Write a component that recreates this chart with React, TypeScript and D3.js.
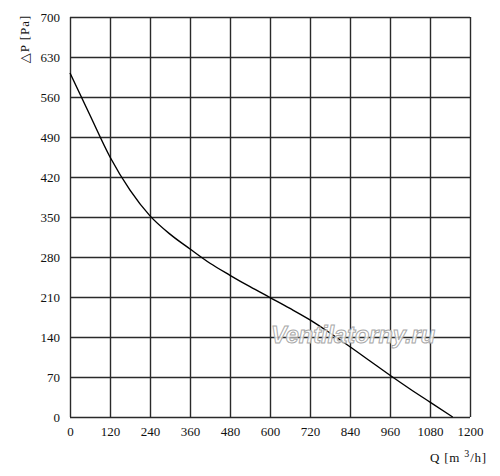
import { useEffect, useRef } from "react";
import * as d3 from "d3";

// flow Q [m3/h] and pressure dP [Pa]
const flow = [0, 60, 120, 180, 240, 300, 360, 420, 480, 540, 600, 660, 720, 780, 840, 900, 960, 1020, 1080, 1148];
const pressure = [602, 528, 455, 397, 352, 320, 294, 269, 248, 228, 209, 190, 170, 147, 123, 98, 73, 49, 26, 0];

const xTicks = [0, 120, 240, 360, 480, 600, 720, 840, 960, 1080, 1200];
const yTicks = [0, 70, 140, 210, 280, 350, 420, 490, 560, 630, 700];

const FONT = "'Liberation Serif', 'DejaVu Serif', serif";

export default function App() {
  const svgRef = useRef<SVGSVGElement | null>(null);

  useEffect(() => {
    document.body.style.margin = "0";
    if (!svgRef.current) {
      return;
    }
    const svg = d3.select(svgRef.current);
    svg.selectAll("*").remove();

    const width = 500;
    const height = 476;
    const margin = { top: 17, left: 70 };
    const innerWidth = 400;
    const innerHeight = 400;

    const x = d3.scaleLinear().domain([0, 1200]).range([0, innerWidth]);
    const y = d3.scaleLinear().domain([0, 700]).range([innerHeight, 0]);

    svg.attr("width", width).attr("height", height).attr("viewBox", `0 0 ${width} ${height}`);

    const root = svg.append("g").attr("transform", `translate(${margin.left},${margin.top})`);

    root
      .append("g")
      .call(d3.axisLeft(y).tickValues(yTicks).tickFormat(d3.format("d")).tickSize(-innerWidth).tickPadding(10))
      .call((axis) => axis.select(".domain").remove())
      .call((axis) => axis.selectAll("line").attr("stroke", "#2a2a2a").attr("stroke-width", 1.4))
      .call((axis) =>
        axis
          .selectAll("text")
          .attr("fill", "#111")
          .style("font-family", FONT)
          .style("font-size", "13px"),
      );

    root
      .append("g")
      .attr("transform", `translate(0,${innerHeight})`)
      .call(d3.axisBottom(x).tickValues(xTicks).tickFormat(d3.format("d")).tickSize(-innerHeight).tickPadding(10))
      .call((axis) => axis.select(".domain").remove())
      .call((axis) => axis.selectAll("line").attr("stroke", "#2a2a2a").attr("stroke-width", 1.4))
      .call((axis) =>
        axis
          .selectAll("text")
          .attr("fill", "#111")
          .style("font-family", FONT)
          .style("font-size", "13px"),
      );

    // watermark
    svg
      .append("text")
      .attr("x", 271)
      .attr("y", 343)
      .attr("textLength", 164)
      .attr("lengthAdjust", "spacingAndGlyphs")
      .attr("fill", "#fff")
      .attr("fill-opacity", 0.85)
      .attr("stroke", "#a8a8a8")
      .attr("stroke-width", 1)
      .style("font-family", "'Liberation Sans', Arial, sans-serif")
      .style("font-style", "italic")
      .style("font-weight", "bold")
      .style("font-size", "24px")
      .text("Ventilatorny.ru");

    const rows = flow.map((q, i) => ({ q, p: pressure[i] }));
    const line = d3
      .line<{ q: number; p: number }>()
      .x((d) => x(d.q))
      .y((d) => y(d.p))
      .curve(d3.curveMonotoneX);

    root
      .append("path")
      .datum(rows)
      .attr("fill", "none")
      .attr("stroke", "#000")
      .attr("stroke-width", 1.4)
      .attr("d", line);

    svg
      .append("text")
      .attr("transform", "translate(29,39) rotate(-90)")
      .attr("text-anchor", "middle")
      .attr("fill", "#111")
      .style("font-family", FONT)
      .style("font-size", "13px")
      .style("letter-spacing", "1px")
      .text("△P [Pa]");

    const xLabel = svg
      .append("text")
      .attr("x", 430)
      .attr("y", 462)
      .attr("fill", "#111")
      .style("font-family", FONT)
      .style("font-size", "13px")
      .style("letter-spacing", "0.8px");
    xLabel.append("tspan").text("Q [m ");
    xLabel.append("tspan").attr("dy", -5).style("font-size", "10px").text("3");
    xLabel.append("tspan").attr("dy", 5).text("/h]");
  }, []);

  return <svg ref={svgRef} style={{ display: "block" }} />;
}
